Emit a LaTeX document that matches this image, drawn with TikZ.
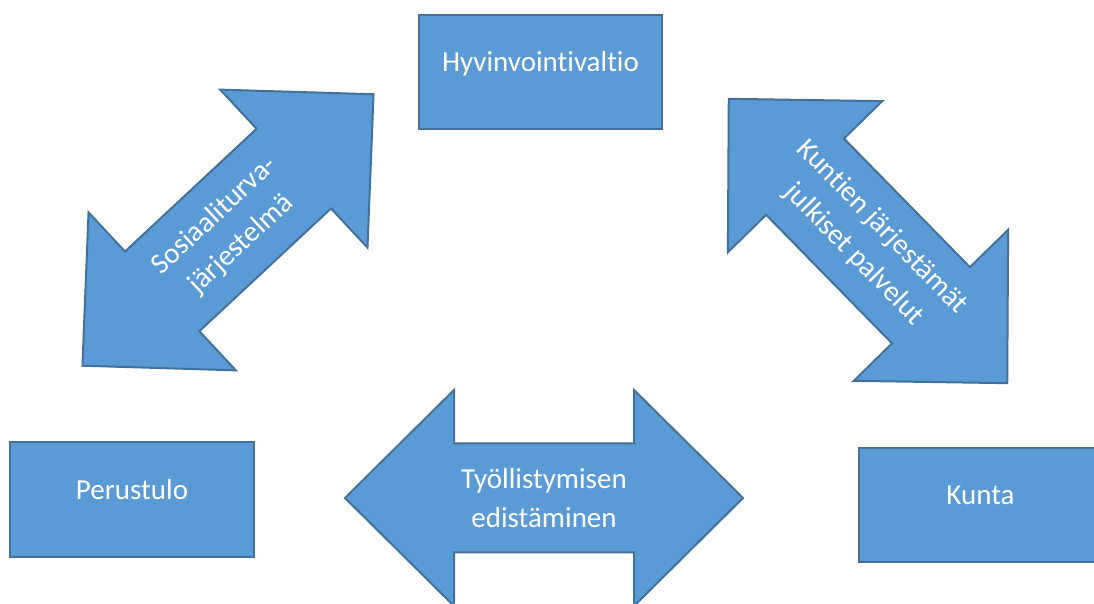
\documentclass[tikz,border=0pt]{standalone}
\usepackage{fontspec}
\setmainfont{Carlito}[Ligatures={NoCommon,NoContextual}]
\definecolor{fillblue}{HTML}{5B9BD5}
\definecolor{edgeblue}{HTML}{41719C}
\tikzset{
  shapebox/.style={draw=edgeblue, fill=fillblue, line width=2pt, text=white,
    minimum width=243pt, minimum height=114pt, inner sep=0pt,
    text height=12pt, text depth=12pt, font=\fontsize{29}{39}\selectfont},
  arrowshape/.style={draw=edgeblue, fill=fillblue, line width=2pt, line join=miter},
  arrowtext/.style={text=white, align=center, font=\fontsize{29}{39}\selectfont, inner sep=0pt},
  dblarrow/.pic={
    \draw[arrowshape] (-199,0) -- (-90,108) -- (-90,54.5) -- (90,54.5) -- (90,108)
      -- (199,0) -- (90,-108) -- (90,-54.5) -- (-90,-54.5) -- (-90,-108) -- cycle;
  }
}
\begin{document}
\begin{tikzpicture}[x=1pt,y=1pt]
\useasboundingbox (0,0) rectangle (1094,604);
\fill[white] (0,0) rectangle (1094,604);

% boxes
\node[shapebox] (hyv) at (540.5,532) {Hyvinvointivaltio};
\node[shapebox, minimum width=244pt, minimum height=115pt] (per) at (132,104.5) {Perustulo};
\node[shapebox] (kun) at (980.5,99) {Kunta};

% double arrows
\pic[rotate=43] at (228,374) {dblarrow};
\node[arrowtext, rotate=43] (sos) at (228,374) {Sosiaaliturva-\\järjestelmä};

\pic[rotate=-45.6] at (868,363) {dblarrow};
\node[arrowtext, rotate=-45.6] (kjp) at (868,363) {Kuntien järjestämät\\julkiset palvelut};

\pic at (544,106) {dblarrow};
\node[arrowtext] (tyo) at (544,106) {Työllistymisen\\edistäminen};
\end{tikzpicture}
\end{document}
